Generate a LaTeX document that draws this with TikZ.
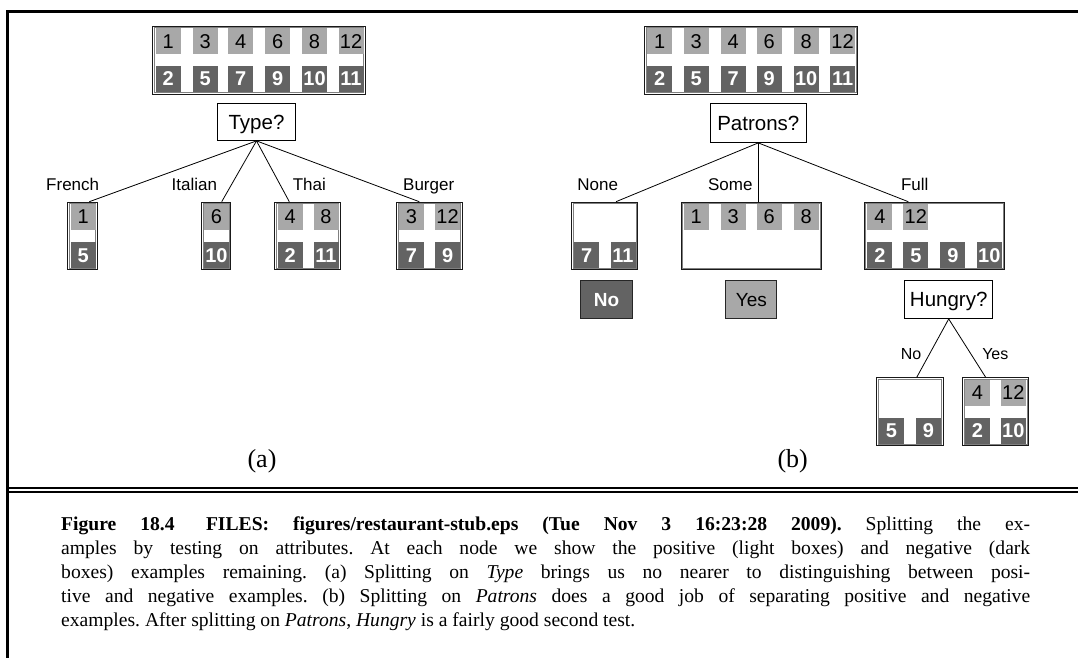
\documentclass[tikz,border=0pt]{standalone}
\usepackage{fontspec}
\setmainfont{Liberation Serif}
\newfontfamily\hv{Liberation Sans}
\definecolor{lightc}{gray}{0.66}
\definecolor{darkc}{gray}{0.39}
\frenchspacing
\begin{document}
\begin{tikzpicture}[x=1pt,y=-1pt,
  cellL/.style={fill=lightc, minimum width=25pt, minimum height=25.7pt, inner sep=0pt, text=black, font=\hv\fontsize{20}{20}\selectfont},
  cellD/.style={fill=darkc, minimum width=25pt, minimum height=25.7pt, inner sep=0pt, text=white, font=\hv\bfseries\fontsize{20}{20}\selectfont},
  grp/.style={draw=black!90, line width=1pt, inner sep=0pt},
  innerline/.style={draw=black!50, line width=0.7pt},
  testbox/.style={draw=black, line width=0.9pt, fill=white, inner sep=0pt, text height=14.7pt, text depth=0pt, font=\hv\fontsize{20.5}{20.5}\selectfont},
  resbox/.style={draw=black!85, line width=0.9pt, inner sep=0pt, minimum height=38pt, text height=13.6pt, text depth=0pt, font=\hv\fontsize{19}{19}\selectfont},
  lbl/.style={inner sep=0pt, anchor=base, font=\hv\fontsize{17}{17}\selectfont},
  lbls/.style={inner sep=0pt, anchor=base, font=\hv\fontsize{16}{16}\selectfont},
  sublbl/.style={inner sep=0pt, anchor=base, font=\fontsize{26}{26}\selectfont},
  captext/.style={inner sep=0pt, anchor=base west, font=\fontsize{19.6}{24}\selectfont},
  conn/.style={line width=0.8pt}
]
\useasboundingbox (0,0) rectangle (1078,658);
% frame
\draw[line width=2.7pt] (7.2,658) -- (7.2,11.3) -- (1078,11.3);
\draw[line width=2pt] (7.2,488) -- (1078,488);
\draw[line width=2pt] (7.2,492.2) -- (1078,492.2);

% ---------------- (a) ----------------
\node[grp, minimum width=212.4pt, minimum height=68pt] (atop) at (259,60.2) {};
\node[testbox, minimum width=77.4pt, minimum height=37.3pt] (type) at (256.5,121.8) {Type?};

\node[grp, minimum width=29.4pt, minimum height=67.6pt] (french) at (82.6,236) {};
\node[grp, minimum width=29pt, minimum height=67.6pt] (italian) at (216.2,236) {};
\node[grp, minimum width=65.4pt, minimum height=67.6pt] (thai) at (307.5,236) {};
\node[grp, minimum width=65.7pt, minimum height=67.6pt] (burger) at (429.3,236) {};

% ---------------- (b) ----------------
\node[grp, minimum width=213pt, minimum height=68pt] (btop) at (751.3,60.2) {};
\node[testbox, minimum width=96.3pt, minimum height=39.3pt] (patrons) at (758.3,122.8) {Patrons?};
\node[grp, minimum width=66pt, minimum height=67.6pt] (none) at (604.8,236) {};
\node[grp, minimum width=140.3pt, minimum height=67.6pt] (some) at (751.3,236) {};
\node[grp, minimum width=140.3pt, minimum height=67.6pt] (full) at (934.3,236) {};
\node[grp, minimum width=66.7pt, minimum height=67.7pt] (hno) at (909.8,411.7) {};
\node[grp, minimum width=66pt, minimum height=67.7pt] (hyes) at (995.8,411.7) {};

\foreach \b in {atop,french,italian,thai,burger,btop,none,some,full,hno,hyes}
  \draw[innerline] ([shift={(2pt,-2pt)}]\b.north west) rectangle ([shift={(-2pt,2pt)}]\b.south east);

% cells (a)
\foreach \n/\x in {1/168.3,3/205.2,4/240.8,6/277.8,8/314.5,12/351}
  \node[cellL] (atop-\n) at (\x,41.2) {\n};
\foreach \n/\x in {2/168.3,5/205.2,7/240.8,9/277.8,10/314.5,11/351}
  \node[cellD] (atop-\n) at (\x,79) {\n};
\node[cellL] (fr-1) at (83.1,217) {1};
\node[cellD] (fr-5) at (83.1,255.3) {5};
\node[cellL] (it-6) at (216.5,217) {6};
\node[cellD] (it-10) at (216.5,255.3) {10};
\node[cellL] (th-4) at (290.2,217) {4};
\node[cellL] (th-8) at (326,217) {8};
\node[cellD] (th-2) at (290.2,255.3) {2};
\node[cellD] (th-11) at (326,255.3) {11};
\node[cellL] (bu-3) at (411.5,217) {3};
\node[cellL] (bu-12) at (447.6,217) {12};
\node[cellD] (bu-7) at (411.5,255.3) {7};
\node[cellD] (bu-9) at (447.6,255.3) {9};

\draw[conn] (type.south) -- ([xshift=6.7pt]french.north);
\draw[conn] (type.south) -- ([xshift=5.5pt]italian.north);
\draw[conn] (type.south) -- ([xshift=-18.2pt]thai.north);
\draw[conn] (type.south) -- ([xshift=-10pt]burger.north);

\node[lbl] (l-french) at (72.7,190.5) {French};
\node[lbl] (l-italian) at (194.3,190.5) {Italian};
\node[lbl] (l-thai) at (309.3,190.5) {Thai};
\node[lbl] (l-burger) at (428.7,190.5) {Burger};

\node[sublbl] (suba) at (262,467) {(a)};

% cells (b)
\foreach \n/\x in {1/659.8,3/696.2,4/733.2,6/769.2,8/806.2,12/842.6}
  \node[cellL] (btop-\n) at (\x,41.2) {\n};
\foreach \n/\x in {2/659.8,5/696.2,7/733.2,9/769.2,10/806.2,11/842.6}
  \node[cellD] (btop-\n) at (\x,79) {\n};
\node[cellD] (no-7) at (586.8,255.3) {7};
\node[cellD] (no-11) at (623,255.3) {11};
\foreach \n/\x in {1/696.2,3/733.2,6/769.2,8/806.2}
  \node[cellL] (so-\n) at (\x,217) {\n};
\node[cellL] (fu-4) at (879.8,217) {4};
\node[cellL] (fu-12) at (915.8,217) {12};
\foreach \n/\x in {2/879.8,5/915.8,9/952.8,10/989.3}
  \node[cellD] (fu-\n) at (\x,255.3) {\n};

\draw[conn] (patrons.south) -- ([xshift=11.2pt]none.north);
\draw[conn] (patrons.south) -- ([xshift=7pt]some.north);
\draw[conn] (patrons.south) -- ([xshift=-26pt]full.north);

\node[lbl] (l-none) at (597.7,190.5) {None};
\node[lbl] (l-some) at (730.3,190.5) {Some};
\node[lbl] (l-full) at (914.7,190.5) {Full};

\node[resbox, fill=darkc, text=white, minimum width=52pt, font=\hv\bfseries\fontsize{19}{19}\selectfont] (resno) at (606.5,299.3) {No};
\node[resbox, fill=lightc, text=black, minimum width=51pt] (resyes) at (751.3,299.5) {Yes};
\node[testbox, minimum width=88.3pt, minimum height=38pt] (hungry) at (948.7,299.5) {Hungry?};

\node[cellD] (hn-5) at (891.5,430.7) {5};
\node[cellD] (hn-9) at (928.3,430.7) {9};
\node[cellL] (hy-4) at (977.5,392.8) {4};
\node[cellL] (hy-12) at (1013.3,392.8) {12};
\node[cellD] (hy-2) at (977.5,430.7) {2};
\node[cellD] (hy-10) at (1013.3,430.7) {10};

\draw[conn] (hungry.south) -- ([xshift=6.9pt]hno.north);
\draw[conn] (hungry.south) -- ([xshift=-10.1pt]hyes.north);
\node[lbls] (l-hno) at (911,359) {No};
\node[lbls] (l-hyes) at (995.3,359) {Yes};

\node[sublbl] (subb) at (792.7,467) {(b)};

% ---------------- caption ----------------
\node[captext] (cap1) at (61,530) {\makebox[969pt][s]{\textbf{Figure 18.4}\hspace{1.6em}\textbf{FILES: figures/restaurant-stub.eps (Tue Nov 3 16:23:28 2009).} Splitting the ex-}};
\node[captext] (cap2) at (61,554) {\makebox[969pt][s]{amples by testing on attributes. At each node we show the positive (light boxes) and negative (dark}};
\node[captext] (cap3) at (61,578) {\makebox[969pt][s]{boxes) examples remaining. (a) Splitting on \textit{Type} brings us no nearer to distinguishing between posi-}};
\node[captext] (cap4) at (61,602) {\makebox[969pt][s]{tive and negative examples. (b) Splitting on \textit{Patrons} does a good job of separating positive and negative}};
\node[captext] (cap5) at (61,626) {examples. After splitting on \textit{Patrons}, \textit{Hungry} is a fairly good second test.};
\end{tikzpicture}
\end{document}
